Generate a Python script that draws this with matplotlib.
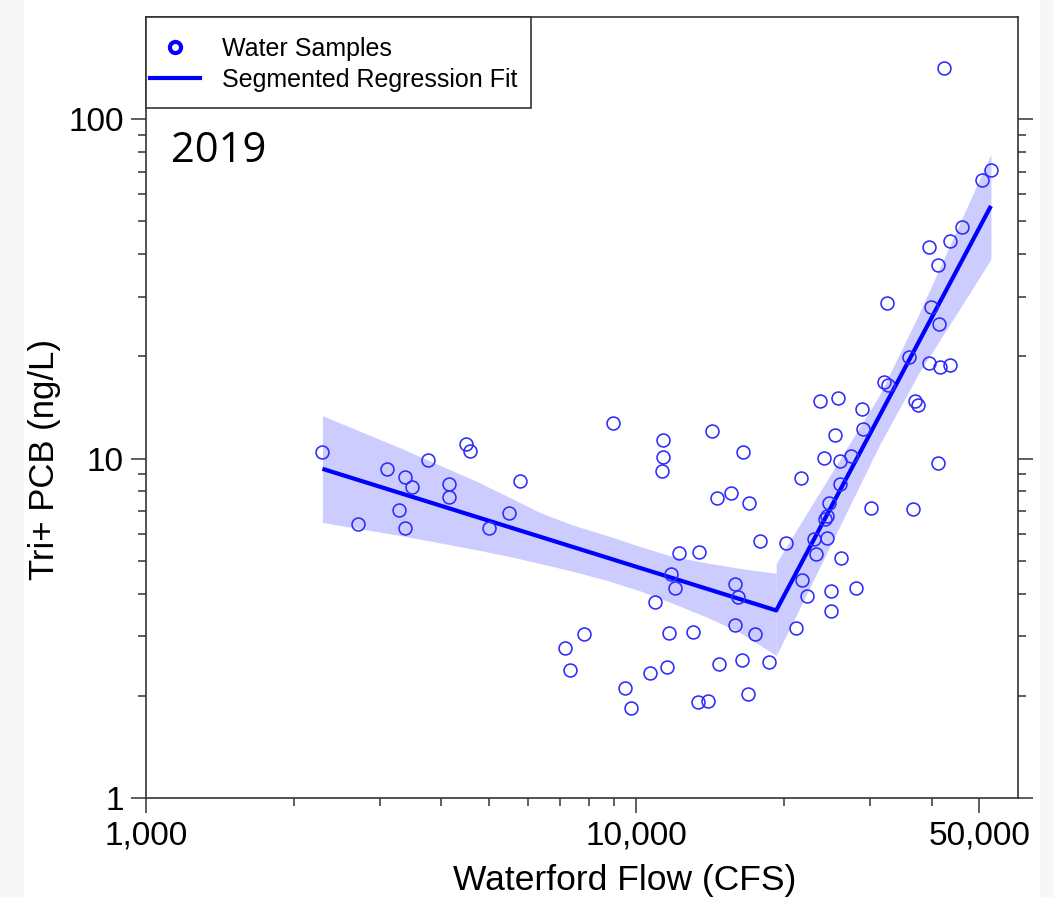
import matplotlib
matplotlib.use('Agg')
import matplotlib.pyplot as plt
from matplotlib.lines import Line2D
from matplotlib.patches import Rectangle

plt.rcParams['font.family'] = ['Liberation Sans', 'DejaVu Sans']

# water samples (flow in cfs, Tri+ PCB in ng/L)
flow = [2290, 2710, 3100, 3280, 3380, 3490, 3380, 3750, 4500, 4580, 4150, 4150, 5000, 5500, 5800,
        8950, 11340, 11340, 11260, 14270, 16460, 14620, 15610, 16930, 17890, 20210, 12230, 13440,
        11750, 12010, 10930, 15890, 16140, 15890, 17440, 21150, 7810, 7150, 7310, 11670, 13050,
        11530, 10680, 14710, 16440, 18600, 9480, 9770, 13360, 13970, 16910,
        32000, 32600, 23700, 25790, 28860, 37000, 37470, 25460, 29030, 24150, 26070, 27450, 41170,
        21710, 26030, 24650, 30060, 36710, 24460, 24270, 23050, 24460, 23190, 26120, 21750, 22270,
        24920, 28030, 24920,
        42410, 52780, 50600, 46060, 43660, 39460, 41170, 32500, 39940, 41360, 35970, 39460, 41680, 43660]
pcb = [10.43, 6.40, 9.33, 7.07, 8.81, 8.27, 6.26, 9.91, 11.05, 10.51, 8.43, 7.73, 6.24, 6.92, 8.58,
       12.70, 11.35, 10.09, 9.18, 12.06, 10.43, 7.66, 7.94, 7.41, 5.70, 5.63, 5.27, 5.30,
       4.57, 4.15, 3.77, 4.26, 3.91, 3.24, 3.05, 3.16, 3.05, 2.77, 2.38, 3.07, 3.08,
       2.44, 2.34, 2.48, 2.55, 2.51, 2.11, 1.84, 1.92, 1.93, 2.02,
       16.77, 16.51, 14.81, 15.09, 13.96, 14.74, 14.42, 11.77, 12.25, 10.07, 9.84, 10.18, 9.69,
       8.79, 8.44, 7.42, 7.16, 7.11, 6.78, 6.63, 5.81, 5.85, 5.23, 5.09, 4.40, 3.94,
       4.08, 4.17, 3.56,
       141.6, 70.6, 66.2, 48.2, 43.8, 42.0, 37.3, 28.8, 27.9, 24.9, 19.86, 19.07, 18.65, 18.90]

# segmented regression fit and its confidence band
fit_flow = [2290, 19280, 52840]
fit_pcb = [9.33, 3.57, 55.5]

band_left_flow = [2290, 3290, 4680, 5500, 6350, 7400, 8690, 10200, 11840, 14000, 16210, 19280]
band_left_hi = [13.38, 10.77, 8.62, 7.70, 6.94, 6.38, 5.94, 5.50, 5.15, 4.92, 4.75, 4.59]
band_left_lo = [6.48, 5.94, 5.40, 5.15, 4.91, 4.66, 4.38, 4.07, 3.75, 3.40, 3.08, 2.63]
band_right_flow = [19280, 21480, 25910, 31260, 37700, 45480, 52840]
band_right_hi = [4.91, 6.35, 9.87, 15.32, 26.7, 48.8, 78.9]
band_right_lo = [2.63, 3.60, 6.27, 10.92, 17.9, 27.4, 38.7]

x_major = [1000, 10000, 50000]
x_labels = ['1,000', '10,000', '50,000']
x_minor = [2000, 3000, 4000, 5000, 6000, 7000, 8000, 9000, 20000, 30000, 40000]
y_major = [1, 10, 100]
y_labels = ['1', '10', '100']
y_minor = [2, 3, 4, 5, 6, 7, 8, 9, 20, 30, 40, 50, 60, 70, 80, 90]

W, H = 1053, 897
fig = plt.figure(figsize=(W / 100, H / 100), dpi=100)
fig.patch.set_facecolor('white')
# light grey page strips at the sides
fig.patches.append(Rectangle((0, 0), 24 / W, 1, transform=fig.transFigure,
                             facecolor='#f7f7f7', edgecolor='none', zorder=-10))
fig.patches.append(Rectangle((1040 / W, 0), 1 - 1040 / W, 1, transform=fig.transFigure,
                             facecolor='#f7f7f7', edgecolor='none', zorder=-10))

ax = fig.add_axes([146 / W, 1 - 798 / H, 872 / W, 781 / H])
ax.set_xscale('log')
ax.set_yscale('log')

blue = '#0000ff'
ax.fill_between(band_left_flow, band_left_lo, band_left_hi, color='#ccccff', lw=0, zorder=1)
ax.fill_between(band_right_flow, band_right_lo, band_right_hi, color='#ccccff', lw=0, zorder=1)
ax.plot(fit_flow, fit_pcb, color=blue, lw=3, zorder=2, solid_capstyle='butt')
ax.plot(flow, pcb, 'o', mfc='none', mec='#2b2bff', ms=9.3, mew=1.15, zorder=3)

ax.set_xlim(1000, 60000)
ax.set_ylim(1, 200)
ax.set_xticks(x_major)
ax.set_xticklabels(x_labels)
ax.set_xticks(x_minor, minor=True)
ax.set_xticklabels([], minor=True)
ax.set_yticks(y_major)
ax.set_yticklabels(y_labels)
ax.set_yticks(y_minor, minor=True)
ax.set_yticklabels([], minor=True)

ax.tick_params(which='both', direction='out', top=False, right=True, labelright=False,
               colors='#333333', labelcolor='black', labelsize=24, width=1.1)
ax.tick_params(which='major', length=11, pad=5)
ax.tick_params(which='minor', length=6)
for sp in ax.spines.values():
    sp.set_color('#333333')
    sp.set_linewidth(1.2)

ax.set_xlabel('Waterford Flow (CFS)', fontsize=25.5)
ax.xaxis.set_label_coords(0.549, -0.106)
ax.xaxis.label.set_verticalalignment('center')
ax.set_ylabel('Tri+ PCB (ng/L)', fontsize=25)
ax.yaxis.set_label_coords(-0.116, 0.434)
ax.yaxis.label.set_verticalalignment('center')

ax.text(0.029, 0.8143, '2019', transform=ax.transAxes, fontsize=30,
        family=['Open Sans', 'DejaVu Sans'], va='baseline', ha='left')

# legend frame drawn separately to match the reference padding
ax.add_patch(Rectangle((0, 1 - 91 / 781), 385 / 872, 91 / 781, transform=ax.transAxes,
                       facecolor='white', edgecolor='#333333', lw=1.2, zorder=4.5,
                       clip_on=False))
handles = [Line2D([], [], marker='o', ls='none', mfc='white', mec=blue, mew=3, ms=8),
           Line2D([], [], color=blue, lw=3)]
ax.legend(handles, ['Water Samples', 'Segmented Regression Fit'], loc='upper left',
          bbox_to_anchor=(4 / 872, 1 - 20 / 781), frameon=False, fontsize=18,
          borderpad=0, handlelength=2.0, handletextpad=0.9, labelspacing=0.28,
          borderaxespad=0)

fig.savefig('out.png', dpi=100)
